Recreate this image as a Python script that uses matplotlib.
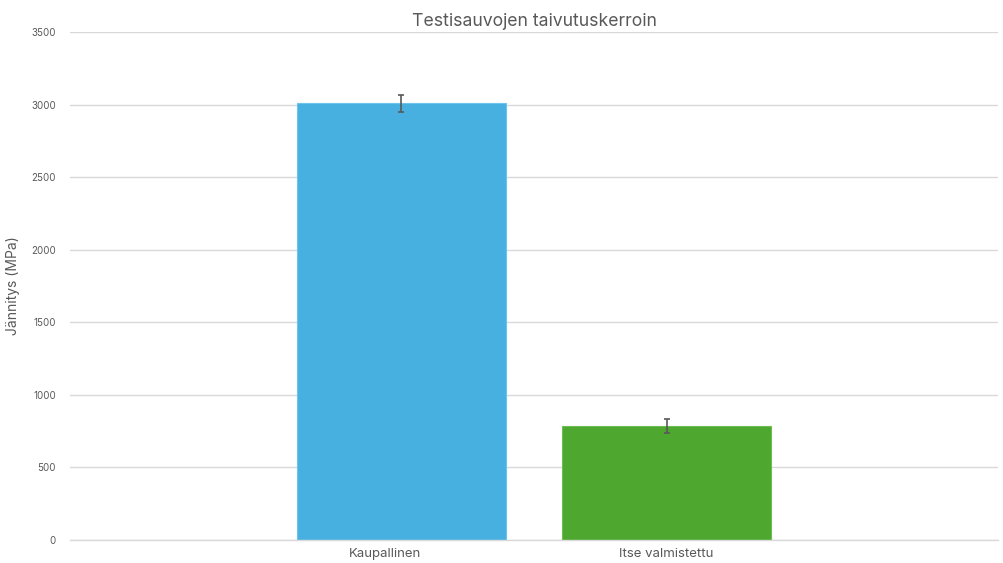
import matplotlib.pyplot as plt
from matplotlib.transforms import ScaledTranslation

categories = ["Kaupallinen", "Itse valmistettu"]
values = [3008, 788]
errors = [58, 48]
colors = ["#47B0E1", "#4EA72E"]
yticks = [0, 500, 1000, 1500, 2000, 2500, 3000, 3500]

plt.rcParams['font.family'] = ['Inter', 'DejaVu Sans']

fig = plt.figure(figsize=(10.04, 5.63), dpi=100)
ax = fig.add_axes([70/1004, 1 - 540/563, 928/1004, 508/563])

x = list(range(len(categories)))
ax.bar(x, values, width=0.79, color=colors, edgecolor=["#6cc4ec", "#6dbd52"], linewidth=0.8, zorder=2,
       yerr=errors, error_kw=dict(ecolor="#595959", elinewidth=1.2, capsize=2.5, capthick=1.2))
ax.set_xlim(-1.25, 2.25)
ax.set_ylim(0, 3500)
ax.set_yticks(yticks)
ax.set_yticklabels([str(t) for t in yticks], fontsize=7, color="#595959")
ax.set_xticks(x)
ax.set_xticklabels(categories, fontsize=9.5, color="#595959")
ax.tick_params(axis='both', length=0, pad=10)
ax.tick_params(axis='x', pad=6)
ax.grid(axis='y', color="#d9d9d9", linewidth=1, zorder=0)
ax.set_axisbelow(True)
for s in ["top", "right", "left"]:
    ax.spines[s].set_visible(False)
ax.spines["bottom"].set_color("#d9d9d9")
ax.spines["bottom"].set_linewidth(1)
ax.set_ylabel("Jännitys (MPa)", fontsize=10, color="#595959", labelpad=8)
ax.set_title("Testisauvojen taivutuskerroin", fontsize=12.7, color="#595959", pad=4)

lbl = ax.get_xticklabels()[0]
lbl.set_transform(lbl.get_transform() + ScaledTranslation(-0.16, 0, fig.dpi_scale_trans))

fig.savefig("out.png", dpi=100)
